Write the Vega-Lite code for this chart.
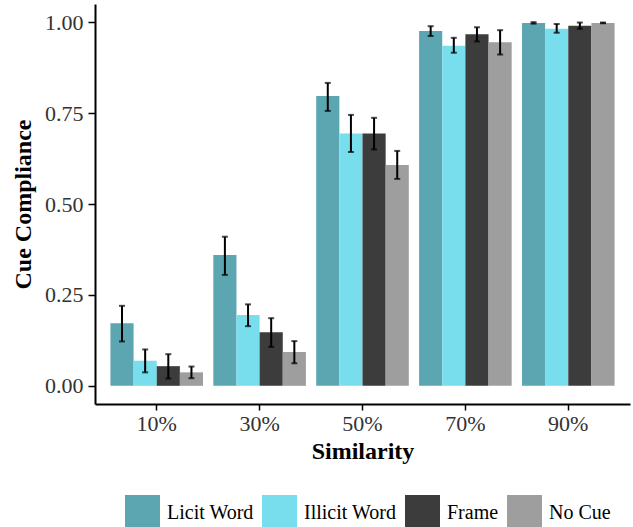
{
  "$schema": "https://vega.github.io/schema/vega-lite/v6.json",
  "width": 535,
  "height": 400,
  "autosize": {"type": "none"},
  "padding": {"left": 95, "top": 4, "right": 3, "bottom": 123},
  "background": "white",
  "config": {
    "view": {"stroke": null},
    "font": "'Liberation Serif', 'Times New Roman', Times, serif",
    "axis": {"grid": false, "domainColor": "black", "domainWidth": 2, "tickColor": "black", "tickWidth": 1.5, "tickSize": 7, "labelFont": "'Liberation Serif', 'Times New Roman', Times, serif", "labelFontSize": 22, "labelColor": "#333333", "titleFont": "'Liberation Serif', 'Times New Roman', Times, serif", "titleFontSize": 24, "titleFontWeight": "bold", "titleColor": "black"},
    "legend": {"labelFont": "'Liberation Serif', 'Times New Roman', Times, serif"}
  },
  "data": {"values": [
    {"sim": "10%", "cue": "Licit Word", "mean": 0.172, "lo": 0.122, "hi": 0.22},
    {"sim": "10%", "cue": "Illicit Word", "mean": 0.069, "lo": 0.037, "hi": 0.10},
    {"sim": "10%", "cue": "Frame", "mean": 0.054, "lo": 0.02, "hi": 0.087},
    {"sim": "10%", "cue": "No Cue", "mean": 0.037, "lo": 0.021, "hi": 0.053},
    {"sim": "30%", "cue": "Licit Word", "mean": 0.36, "lo": 0.305, "hi": 0.41},
    {"sim": "30%", "cue": "Illicit Word", "mean": 0.195, "lo": 0.164, "hi": 0.224},
    {"sim": "30%", "cue": "Frame", "mean": 0.147, "lo": 0.107, "hi": 0.186},
    {"sim": "30%", "cue": "No Cue", "mean": 0.093, "lo": 0.062, "hi": 0.123},
    {"sim": "50%", "cue": "Licit Word", "mean": 0.797, "lo": 0.756, "hi": 0.833},
    {"sim": "50%", "cue": "Illicit Word", "mean": 0.694, "lo": 0.643, "hi": 0.745},
    {"sim": "50%", "cue": "Frame", "mean": 0.694, "lo": 0.65, "hi": 0.737},
    {"sim": "50%", "cue": "No Cue", "mean": 0.607, "lo": 0.569, "hi": 0.646},
    {"sim": "70%", "cue": "Licit Word", "mean": 0.976, "lo": 0.962, "hi": 0.989},
    {"sim": "70%", "cue": "Illicit Word", "mean": 0.935, "lo": 0.916, "hi": 0.957},
    {"sim": "70%", "cue": "Frame", "mean": 0.967, "lo": 0.947, "hi": 0.986},
    {"sim": "70%", "cue": "No Cue", "mean": 0.945, "lo": 0.911, "hi": 0.978},
    {"sim": "90%", "cue": "Licit Word", "mean": 0.998, "lo": 0.996, "hi": 1.0},
    {"sim": "90%", "cue": "Illicit Word", "mean": 0.982, "lo": 0.971, "hi": 0.995},
    {"sim": "90%", "cue": "Frame", "mean": 0.99, "lo": 0.982, "hi": 0.999},
    {"sim": "90%", "cue": "No Cue", "mean": 0.998, "lo": 0.997, "hi": 0.999}
  ]},
  "encoding": {
    "x": {"field": "sim", "type": "nominal", "sort": ["10%", "30%", "50%", "70%", "90%"], "scale": {"paddingInner": 0.1, "paddingOuter": 0.15}, "axis": {"title": "Similarity", "labelAngle": 0, "labelPadding": 3, "titlePadding": 5, "tickSize": 6}},
    "xOffset": {"field": "cue", "type": "nominal", "sort": ["Licit Word", "Illicit Word", "Frame", "No Cue"], "scale": {"paddingInner": 0, "paddingOuter": 0}}
  },
  "layer": [
    {
      "mark": {"type": "bar", "opacity": 1},
      "encoding": {
        "y": {"field": "mean", "type": "quantitative", "scale": {"domain": [-0.05, 1.05], "nice": false, "zero": false}, "axis": {"title": "Cue Compliance", "values": [0, 0.25, 0.5, 0.75, 1], "format": ".2f", "labelPadding": 5, "titlePadding": 9}},
        "color": {"field": "cue", "type": "nominal", "sort": ["Licit Word", "Illicit Word", "Frame", "No Cue"], "scale": {"domain": ["Licit Word", "Illicit Word", "Frame", "No Cue"], "range": ["#5BA6B0", "#78DDED", "#3C3C3C", "#9E9E9E"]},
          "legend": {"title": null, "orient": "none", "direction": "horizontal", "legendX": 30, "legendY": 491, "padding": 0, "symbolType": "square", "symbolSize": 1225, "symbolStrokeWidth": 0, "symbolOpacity": 1, "labelFontSize": 20, "labelColor": "black", "labelOffset": 7, "columnPadding": 8}},
        "y2": {"datum": 0}
      }
    },
    {
      "mark": {"type": "rule", "color": "black", "strokeWidth": 2},
      "encoding": {
        "y": {"field": "lo", "type": "quantitative"},
        "y2": {"field": "hi"}
      }
    },
    {
      "mark": {"type": "tick", "color": "black", "thickness": 2, "size": 6, "orient": "horizontal"},
      "encoding": {"y": {"field": "lo", "type": "quantitative"}}
    },
    {
      "mark": {"type": "tick", "color": "black", "thickness": 2, "size": 6, "orient": "horizontal"},
      "encoding": {"y": {"field": "hi", "type": "quantitative"}}
    }
  ]
}
